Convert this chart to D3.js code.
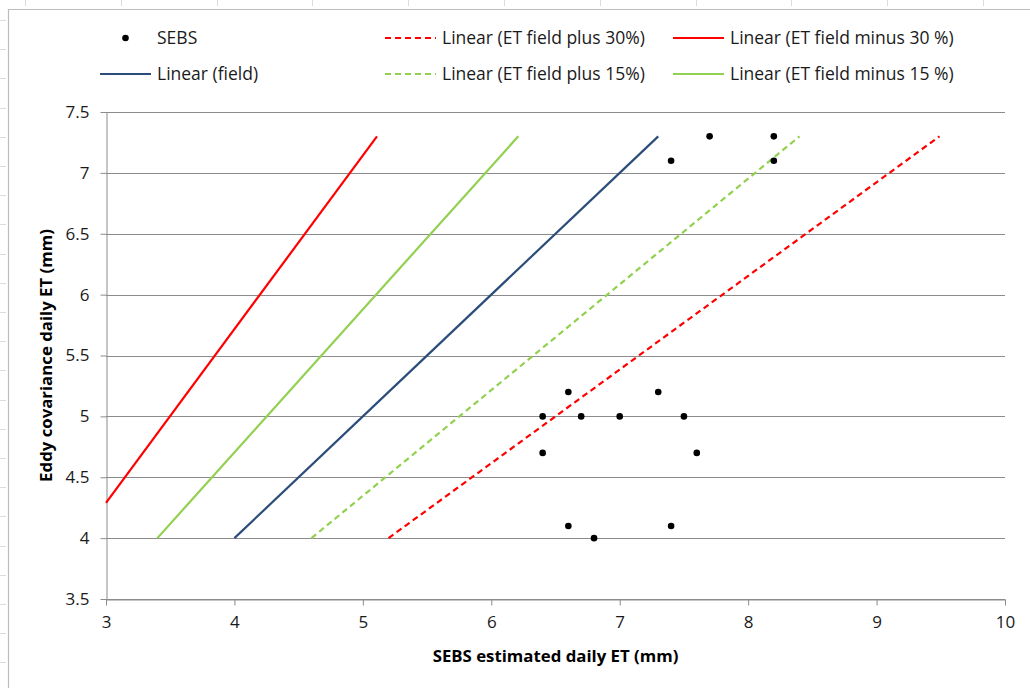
<!DOCTYPE html>
<html>
<head>
<meta charset="utf-8">
<script src="https://cdn.jsdelivr.net/npm/d3@7"></script>
<style>
  html, body { margin: 0; padding: 0; background: #fff; }
  svg { display: block; font-family: "Open Sans", "Liberation Sans", sans-serif; font-variant-ligatures: none; }
</style>
</head>
<body>
<svg id="chart" width="1030" height="688"></svg>
<script>
// SEBS estimated vs eddy covariance daily ET (mm)
const sebsX = [7.4, 7.7, 8.2, 8.2, 6.6, 7.3, 6.4, 6.7, 7.0, 7.5, 6.4, 7.6, 6.6, 7.4, 6.8];
const sebsY = [7.1, 7.3, 7.3, 7.1, 5.2, 5.2, 5.0, 5.0, 5.0, 5.0, 4.7, 4.7, 4.1, 4.1, 4.0];

// Trend lines: visible start and end points [x, y]
const lineField      = [[4.0, 4.0], [7.3, 7.3]];
const linePlus15     = [[4.6, 4.0], [8.4, 7.3]];
const linePlus30     = [[5.2, 4.0], [9.49, 7.3]];
const lineMinus15    = [[3.4, 4.0], [6.21, 7.3]];
const lineMinus30    = [[3.0, 4.29], [5.11, 7.3]];

const xTicks = [3, 4, 5, 6, 7, 8, 9, 10];
const yTicks = [3.5, 4, 4.5, 5, 5.5, 6, 6.5, 7, 7.5];

const svg = d3.select("#chart");
const plot = { left: 106, right: 1005, top: 112, bottom: 599 };

const x = d3.scaleLinear().domain([3, 10]).range([plot.left, plot.right]);
const y = d3.scaleLinear().domain([3.5, 7.5]).range([plot.bottom, plot.top]);

// page ruler marks and chart frame
const ruler = svg.append("g").attr("stroke", "#dcdcdc").attr("stroke-width", 1);
for (let yy = 20; yy < 688; yy += 29.2) {
  ruler.append("line").attr("x1", 0).attr("x2", 6).attr("y1", Math.round(yy) + 0.5).attr("y2", Math.round(yy) + 0.5);
}
for (let xx = 25; xx < 1030; xx += 95.8) {
  ruler.append("line").attr("x1", Math.round(xx) + 0.5).attr("x2", Math.round(xx) + 0.5).attr("y1", 0).attr("y2", 6);
}
svg.append("path")
  .attr("d", "M8.5,688 V9.5 H1030")
  .attr("fill", "none").attr("stroke", "#bdbdbd").attr("stroke-width", 1.2);

// gridlines
svg.append("g")
  .selectAll("line").data(yTicks).join("line")
  .attr("x1", plot.left).attr("x2", plot.right)
  .attr("y1", d => Math.round(y(d)) + 0.5).attr("y2", d => Math.round(y(d)) + 0.5)
  .attr("stroke", "#8c8c8c").attr("stroke-width", 1);

// axes
const xAxis = d3.axisBottom(x).tickValues(xTicks).tickSize(6).tickSizeOuter(0).tickPadding(10)
  .tickFormat(d3.format("d"));
const yAxis = d3.axisLeft(y).tickValues(yTicks).tickSize(6).tickSizeOuter(0).tickPadding(11)
  .tickFormat(d => String(d));

const gx = svg.append("g").attr("transform", `translate(0,${plot.bottom + 0.5})`).call(xAxis);
const gy = svg.append("g").attr("transform", `translate(${plot.left + 0.5},0)`).call(yAxis);
[gx, gy].forEach(g => {
  g.select(".domain").attr("stroke", "#8c8c8c");
  g.selectAll(".tick line").attr("stroke", "#8c8c8c");
  g.selectAll(".tick text").attr("fill", "#1a1a1a").style("font-size", "17px")
    .style("font-family", "'Open Sans', sans-serif");
});

// trend lines
const lineGen = d3.line().x(d => x(d[0])).y(d => y(d[1]));
const trends = [
  { pts: lineMinus30, color: "#ff0000", dash: null },
  { pts: lineMinus15, color: "#92d050", dash: null },
  { pts: lineField,   color: "#2c4d7a", dash: null },
  { pts: linePlus15,  color: "#92d050", dash: "6,4" },
  { pts: linePlus30,  color: "#ff0000", dash: "6,4" }
];
svg.append("g").selectAll("path").data(trends).join("path")
  .attr("d", d => lineGen(d.pts))
  .attr("fill", "none")
  .attr("stroke", d => d.color)
  .attr("stroke-width", 2.2)
  .attr("stroke-dasharray", d => d.dash);

// SEBS points
svg.append("g").selectAll("circle").data(sebsX.map((v, i) => [v, sebsY[i]])).join("circle")
  .attr("cx", d => x(d[0])).attr("cy", d => y(d[1])).attr("r", 3.3).attr("fill", "#000");

// axis titles
svg.append("text")
  .attr("x", (plot.left + plot.right) / 2).attr("y", 662)
  .attr("text-anchor", "middle").style("font-size", "16.8px").style("font-weight", "bold")
  .attr("fill", "#000")
  .text("SEBS estimated daily ET (mm)");
svg.append("text")
  .attr("transform", `translate(52,${(plot.top + plot.bottom) / 2}) rotate(-90)`)
  .attr("text-anchor", "middle").style("font-size", "16.8px").style("font-weight", "bold")
  .attr("fill", "#000")
  .text("Eddy covariance daily ET (mm)");

// legend
const legendItems = [
  { label: "SEBS", type: "dot", x: 100, y: 38 },
  { label: "Linear (ET field plus 30%)", type: "line", color: "#ff0000", dash: "6,4", x: 385, y: 38 },
  { label: "Linear (ET field minus 30 %)", type: "line", color: "#ff0000", dash: null, x: 673, y: 38 },
  { label: "Linear (field)", type: "line", color: "#2c4d7a", dash: null, x: 100, y: 74 },
  { label: "Linear (ET field plus 15%)", type: "line", color: "#92d050", dash: "6,4", x: 385, y: 74 },
  { label: "Linear (ET field minus 15 %)", type: "line", color: "#92d050", dash: null, x: 673, y: 74 }
];
const lg = svg.append("g").selectAll("g").data(legendItems).join("g")
  .attr("transform", d => `translate(${d.x},${d.y})`);
lg.filter(d => d.type === "dot").append("circle").attr("cx", 25.5).attr("cy", 0).attr("r", 3.3).attr("fill", "#000");
lg.filter(d => d.type === "line").append("line")
  .attr("x1", 0).attr("x2", 51).attr("y1", 0).attr("y2", 0)
  .attr("stroke", d => d.color).attr("stroke-width", 2.2).attr("stroke-dasharray", d => d.dash);
lg.append("text").attr("x", 57).attr("y", 0).attr("dy", "0.35em")
  .style("font-size", "17.5px").attr("fill", "#1a1a1a").text(d => d.label);
</script>
</body>
</html>
